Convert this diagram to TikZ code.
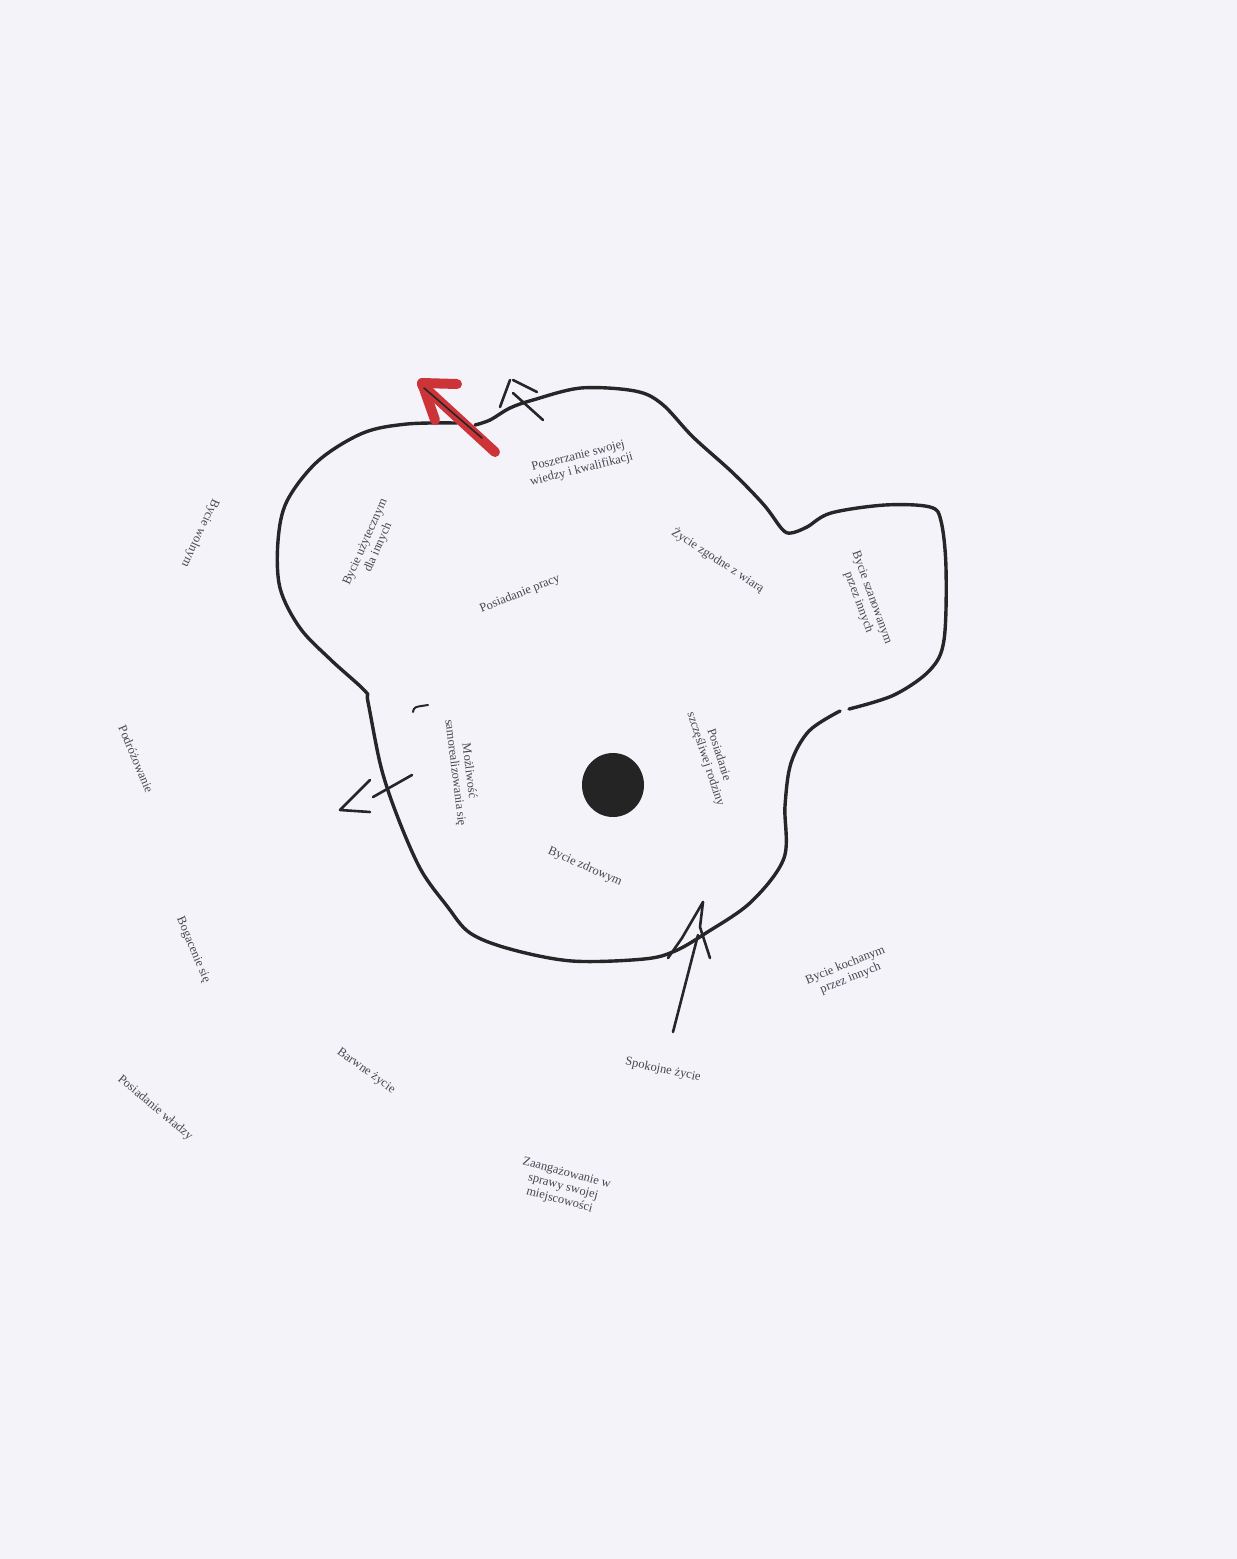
\documentclass[tikz,border=0pt]{standalone}
\usepackage{fontspec}
\setmainfont{Liberation Serif}
\begin{document}
\begin{tikzpicture}[x=1pt,y=-1pt,
  lbl/.style={text=labelgray,font=\fontsize{12.5}{14}\selectfont,align=center,inner sep=0pt},
  pen/.style={draw=inkblack,line width=3.4pt,line cap=round,line join=round},
  thinpen/.style={draw=inkblack,line width=2.6pt,line cap=round,line join=round},
  redpen/.style={draw=marker,line width=10pt,line cap=round,line join=round}]
\definecolor{paper}{RGB}{243,243,249}
\definecolor{inkblack}{RGB}{38,38,40}
\definecolor{labelgray}{RGB}{70,70,78}
\definecolor{marker}{RGB}{204,52,56}
\definecolor{dotc}{RGB}{36,36,36}
\fill[paper] (0,0) rectangle (1237,1559);
\useasboundingbox (0,0) rectangle (1237,1559);

% outline, part 1
\draw[pen] plot[smooth,tension=0.55] coordinates {(457,423) (407,424) (363,433) (318,461) (287,501) (278,541) (280,588) (300,628) (331,660) (365,691) (368,702) (381,767) (398,818) (421,870) (447,906) (470,933) (510,949) (572,961) (644,959) (675,951) (706,933) (751,902) (784,858) (785,806) (791,763) (809,731) (840,711)};
% outline, part 2
\draw[pen] plot[smooth,tension=0.55] coordinates {(849,709) (894,695) (930,670) (944,640) (946,568) (941,521) (930,507) (885,505) (831,513) (807,527) (791,533) (782,529) (764,505) (733,473) (693,437) (662,404) (635,391) (581,388) (533,400) (510,408) (490,420) (475,425)};

% red arrow
\draw[redpen] (422,385) -- (495,452);
\draw[redpen] (457,384) -- (422,383) -- (435,420);
\draw[thinpen,line width=1.6pt] (424,388) -- (482,438);

% top black arrow
\draw[thinpen] (500,407) -- (510,380);
\draw[thinpen] (513,380) -- (537,392);
\draw[thinpen] (513,393) -- (543,420);

% left arrow
\draw[thinpen] (370,780) -- (340,810) -- (370,812);
\draw[thinpen] (373,797) -- (412,775);
\draw[thinpen,line width=2pt] (413,712) .. controls (414,707) .. (428,705);

% bottom arrow
\draw[thinpen] (673,1032) -- (698,935);
\draw[thinpen] (668,958) -- (682,938) -- (703,902);
\draw[thinpen] (703,902) -- (700,927) -- (710,958);

% centre dot
\fill[dotc] (613,785) ellipse [x radius=31, y radius=32];

% labels
\node[lbl,rotate=14] (poszerzanie) at (580,463) {Poszerzanie swojej\\wiedzy i kwalifikacji};
\node[lbl,rotate=66] (uzyteczny) at (372,545) {Bycie użytecznym\\dla innych};
\node[lbl,rotate=22] (praca) at (520,594) {Posiadanie pracy};
\node[lbl,rotate=-33] (wiara) at (718,560) {Życie zgodne z wiarą};
\node[lbl,rotate=-70] (szanowany) at (865,600) {Bycie szanowanym\\przez innych};
\node[lbl,rotate=-83] (samoreal) at (462,772) {Możliwość\\samorealizowania się};
\node[lbl,rotate=-72] (rodzina) at (712,757) {Posiadanie\\szczęśliwej rodziny};
\node[lbl,rotate=-24] (zdrowy) at (585,867) {Bycie zdrowym};
\node[lbl,rotate=22] (kochany) at (848,972) {Bycie kochanym\\przez innych};
\node[lbl,rotate=-12] (spokojne) at (663,1070) {Spokojne życie};
\node[lbl,rotate=-115] (wolny) at (200,533) {Bycie wolnym};
\node[lbl,rotate=-67] (podroz) at (136,759) {Podróżowanie};
\node[lbl,rotate=-67] (bogacenie) at (193,950) {Bogacenie się};
\node[lbl,rotate=-36] (barwne) at (366,1071) {Barwne życie};
\node[lbl,rotate=-40] (wladza) at (155,1108) {Posiadanie władzy};
\node[lbl,rotate=-15] (zaangaz) at (563,1187) {Zaangażowanie w\\sprawy swojej\\miejscowości};
\end{tikzpicture}
\end{document}
